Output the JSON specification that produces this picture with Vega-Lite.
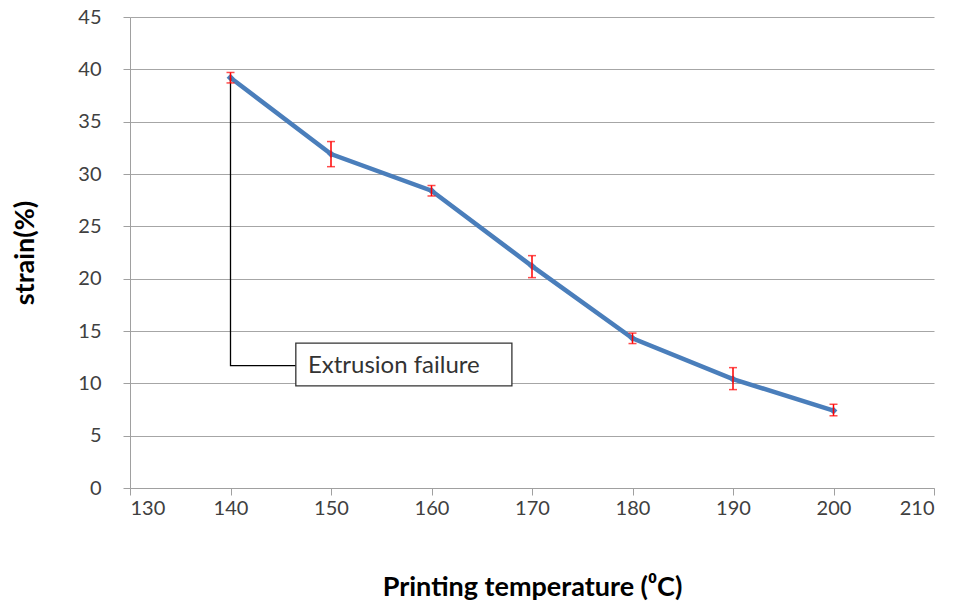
{
  "$schema": "https://vega.github.io/schema/vega-lite/v6.json",
  "width": 804,
  "height": 471,
  "autosize": "none",
  "padding": {"left": 130, "top": 17, "right": 25, "bottom": 117},
  "background": "white",
  "config": {
    "view": {"stroke": null},
    "font": "Lato",
    "axis": {
      "labelFont": "Lato",
      "titleFont": "Lato",
      "labelFontSize": 20,
      "labelColor": "#404040",
      "titleFontSize": 27,
      "titleFontWeight": "bold",
      "titleColor": "#000000",
      "domainColor": "#a0a0a0",
      "tickColor": "#a0a0a0",
      "gridColor": "#a6a6a6",
      "tickSize": 7
    }
  },
  "datasets": {
    "main": [
      {"t": 140, "s": 39.2, "lo": 38.7, "hi": 39.7},
      {"t": 150, "s": 31.9, "lo": 30.7, "hi": 33.1},
      {"t": 160, "s": 28.4, "lo": 27.9, "hi": 28.9},
      {"t": 170, "s": 21.2, "lo": 20.1, "hi": 22.2},
      {"t": 180, "s": 14.3, "lo": 13.8, "hi": 14.8},
      {"t": 190, "s": 10.4, "lo": 9.4, "hi": 11.5},
      {"t": 200, "s": 7.4, "lo": 6.9, "hi": 8.0}
    ],
    "callout": [
      {"o": 1, "t": 140, "s": 39.2},
      {"o": 2, "t": 140, "s": 11.7},
      {"o": 3, "t": 146.5, "s": 11.7}
    ],
    "box": [
      {"x1": 146.5, "x2": 168, "y1": 9.75, "y2": 13.85, "tx": 147.7, "ty": 11.7, "label": "Extrusion failure"}
    ]
  },
  "layer": [
    {
      "data": {"name": "main"},
      "mark": {"type": "line", "color": "#4a7ebb", "strokeWidth": 4.5},
      "encoding": {
        "x": {
          "field": "t", "type": "quantitative",
          "scale": {"domain": [130, 210], "nice": false},
          "axis": {"values": [130, 140, 150, 160, 170, 180, 190, 200, 210], "grid": false, "title": "Printing temperature (⁰C)", "titlePadding": 56, "labelPadding": 3}
        },
        "y": {
          "field": "s", "type": "quantitative",
          "scale": {"domain": [0, 45], "nice": false},
          "axis": {"values": [0, 5, 10, 15, 20, 25, 30, 35, 40, 45], "grid": true, "title": "strain(%)", "titlePadding": 38, "labelPadding": 22}
        }
      }
    },
    {
      "data": {"name": "main"},
      "mark": {"type": "point", "shape": "diamond", "filled": true, "color": "#4a7ebb", "size": 60, "opacity": 1},
      "encoding": {
        "x": {"field": "t", "type": "quantitative"},
        "y": {"field": "s", "type": "quantitative"}
      }
    },
    {
      "data": {"name": "callout"},
      "mark": {"type": "line", "color": "#000000", "strokeWidth": 1.3},
      "encoding": {
        "x": {"field": "t", "type": "quantitative"},
        "y": {"field": "s", "type": "quantitative"},
        "order": {"field": "o"}
      }
    },
    {
      "data": {"name": "box"},
      "mark": {"type": "rect", "fill": "white", "stroke": "#333333", "strokeWidth": 1.3},
      "encoding": {
        "x": {"field": "x1", "type": "quantitative"},
        "x2": {"field": "x2"},
        "y": {"field": "y1", "type": "quantitative"},
        "y2": {"field": "y2"}
      }
    },
    {
      "data": {"name": "box"},
      "mark": {"type": "text", "align": "left", "baseline": "middle", "fontSize": 24, "color": "#333333", "font": "Lato"},
      "encoding": {
        "x": {"field": "tx", "type": "quantitative"},
        "y": {"field": "ty", "type": "quantitative"},
        "text": {"field": "label"}
      }
    },
    {
      "data": {"name": "main"},
      "mark": {"type": "rule", "color": "#ff0000", "strokeWidth": 1.5},
      "encoding": {
        "x": {"field": "t", "type": "quantitative"},
        "y": {"field": "lo", "type": "quantitative"},
        "y2": {"field": "hi"}
      }
    },
    {
      "data": {"name": "main"},
      "mark": {"type": "tick", "orient": "horizontal", "color": "#ff0000", "thickness": 1.5, "size": 8},
      "encoding": {
        "x": {"field": "t", "type": "quantitative"},
        "y": {"field": "lo", "type": "quantitative"}
      }
    },
    {
      "data": {"name": "main"},
      "mark": {"type": "tick", "orient": "horizontal", "color": "#ff0000", "thickness": 1.5, "size": 8},
      "encoding": {
        "x": {"field": "t", "type": "quantitative"},
        "y": {"field": "hi", "type": "quantitative"}
      }
    }
  ]
}
